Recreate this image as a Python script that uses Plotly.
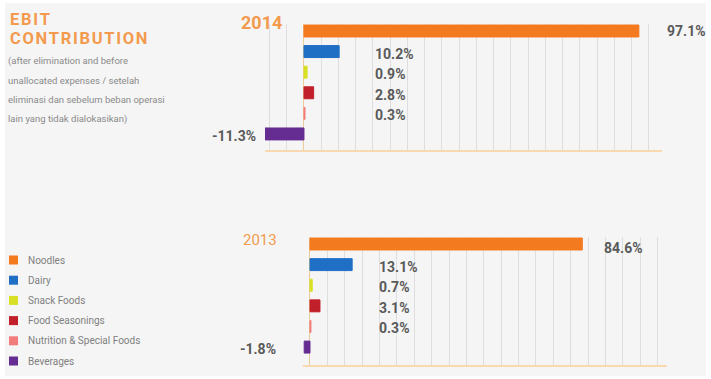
import plotly.graph_objects as go

# ---- data -------------------------------------------------------------
segments = ["Noodles", "Dairy", "Snack Foods", "Food Seasonings",
            "Nutrition & Special Foods", "Beverages"]
colors = ["#f47a20", "#1f6fc5", "#d8e024", "#c1202b", "#f27b7b", "#652c92"]
ebit_2014 = [97.1, 10.2, 0.9, 2.8, 0.3, -11.3]
ebit_2013 = [84.6, 13.1, 0.7, 3.1, 0.3, -1.8]
years = ["2014", "2013"]

title_lines = ["EBIT", "CONTRIBUTION"]
subtitle_lines = ["(after elimination and before",
                  "unallocated expenses / setelah",
                  "eliminasi dan sebelum beban operasi",
                  "lain yang tidak dialokasikan)"]

# ---- layout helpers ---------------------------------------------------
W, H = 711, 379
def px(x):
    return x / W
def py(y):
    return 1 - y / H

LABEL_FONT = dict(family="Roboto, Arial, sans-serif", size=14, color="#5a5a5a")
ORANGE = "#f39a4e"
GRID = "#dedede"

panels = [
    # year, values, x-axis, y-axis, x domain(px), x range, y domain(px top,bottom), y range,
    # grid step, label column, shift of the top label, shift of negative label
    dict(year=years[0], vals=ebit_2014, xa="x", ya="y",
         xdom=(265, 662), xrng=[-11.3, 103.8], ydom=(24, 150), yrng=[5.78, -0.34],
         dtick=5, col=20.0, top_shift=26, top_y=0, neg_shift=-7,
         year_pos=(284, 23), year_font=dict(size=18, weight="bold")),
    dict(year=years[1], vals=ebit_2013, xa="x2", ya="y2",
         xdom=(303, 667), xrng=[-2.17, 110.9], ydom=(237, 365), yrng=[5.87, -0.34],
         dtick=5.4, col=20.8, top_shift=20, top_y=-4, neg_shift=-26,
         year_pos=(279, 240), year_font=dict(size=15, weight="normal")),
]

fig = go.Figure()
annotations = []
shapes = [dict(type="rect", xref="paper", yref="paper",
               x0=px(5), x1=px(706), y0=py(376), y1=py(3),
               fillcolor="#f5f5f5", line=dict(width=0), layer="below")]

for i, p in enumerate(panels):
    fig.add_trace(go.Bar(
        x=p["vals"], y=segments, orientation="h",
        marker=dict(color=colors, line=dict(color=colors, width=1)),
        width=0.58, xaxis=p["xa"], yaxis=p["ya"],
        showlegend=False, hoverinfo="x+y",
    ))
    suffix = "" if i == 0 else "2"
    fig.update_layout(**{
        "xaxis" + suffix: dict(
            domain=[px(p["xdom"][0]), px(p["xdom"][1])], range=p["xrng"],
            anchor="y" + suffix, showgrid=True, gridcolor=GRID, gridwidth=1,
            tick0=0, dtick=p["dtick"], showticklabels=False, ticks="",
            zeroline=True, zerolinecolor="#eacb98", zerolinewidth=1,
            showline=True, linecolor="#f9d9b0", linewidth=1.5, mirror=False,
            fixedrange=True),
        "yaxis" + suffix: dict(
            domain=[py(p["ydom"][1]), py(p["ydom"][0])], range=p["yrng"],
            anchor="x" + suffix, type="category", categoryorder="array",
            categoryarray=segments, showgrid=False, zeroline=False,
            showticklabels=False, ticks="", showline=False, fixedrange=True),
    })

    top = max(p["vals"])
    for seg, v in zip(segments, p["vals"]):
        text = f"{v:.1f}%"
        if v == top:
            annotations.append(dict(x=v, y=seg, xref=p["xa"], yref=p["ya"], text=text,
                                    showarrow=False, xanchor="left", xshift=p["top_shift"],
                                    yshift=p["top_y"], font=dict(LABEL_FONT, weight="bold")))
        elif v < 0:
            annotations.append(dict(x=v, y=seg, xref=p["xa"], yref=p["ya"], text=text,
                                    showarrow=False, xanchor="right", xshift=p["neg_shift"],
                                    yshift=-2, font=dict(LABEL_FONT, weight="bold")))
        else:
            annotations.append(dict(x=p["col"], y=seg, xref=p["xa"], yref=p["ya"], text=text,
                                    showarrow=False, xanchor="left", yshift=-2,
                                    font=dict(LABEL_FONT, weight="bold")))

    yx, yy = p["year_pos"]
    annotations.append(dict(x=px(yx), y=py(yy), xref="paper", yref="paper",
                            text=p["year"], showarrow=False, xanchor="right", yanchor="middle",
                            font=dict(family="Roboto, Arial, sans-serif", color=ORANGE,
                                      **p["year_font"])))

# title block (letter-spaced with hair spaces)
spaced = lambda s: "\u200a".join(s)
for line, yc in zip(title_lines, [19, 38.5]):
    annotations.append(dict(x=px(8), y=py(yc), xref="paper", yref="paper",
                            text=spaced(line), showarrow=False, xanchor="left", yanchor="middle",
                            font=dict(family="Roboto, Arial, sans-serif", size=16.5,
                                      color=ORANGE, weight="bold")))
for line, yc in zip(subtitle_lines, [61, 80.5, 100, 119]):
    annotations.append(dict(x=px(6), y=py(yc), xref="paper", yref="paper",
                            text=line, showarrow=False, xanchor="left", yanchor="middle",
                            font=dict(family="Roboto, Arial, sans-serif", size=9.5,
                                      color="#8a8a8a")))

# legend
for k, (seg, c) in enumerate(zip(segments, colors)):
    yc = 260 + k * 20.2
    shapes.append(dict(type="rect", xref="paper", yref="paper",
                       x0=px(9), x1=px(18), y0=py(yc + 4.5), y1=py(yc - 4.5),
                       fillcolor=c, line=dict(width=0)))
    annotations.append(dict(x=px(26), y=py(yc), xref="paper", yref="paper",
                            text=seg, showarrow=False, xanchor="left", yanchor="middle",
                            font=dict(family="Roboto, Arial, sans-serif", size=10,
                                      color="#808080")))

fig.update_layout(
    width=W, height=H, margin=dict(l=0, r=0, t=0, b=0),
    paper_bgcolor="#ffffff", plot_bgcolor="rgba(0,0,0,0)",
    annotations=annotations, shapes=shapes, bargap=0.4,
)

fig.write_html("out.html", config={"displayModeBar": False})
